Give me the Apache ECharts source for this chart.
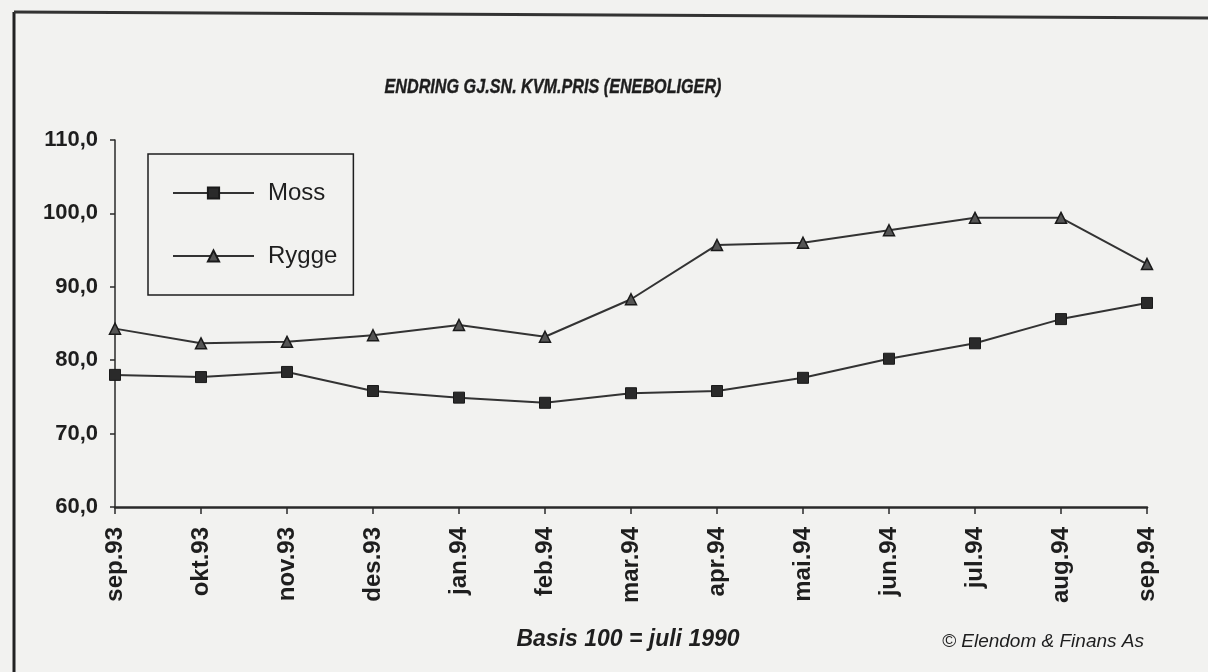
<!DOCTYPE html>
<html>
<head>
<meta charset="utf-8">
<script src="https://cdn.jsdelivr.net/npm/echarts@6/dist/echarts.min.js"></script>
<style>
html,body{margin:0;padding:0;background:#f2f2f0;}
#chart{width:1208px;height:672px;}
</style>
</head>
<body>
<div id="chart"></div>
<script>
const categories = ['sep.93','okt.93','nov.93','des.93','jan.94','feb.94','mar.94','apr.94','mai.94','jun.94','jul.94','aug.94','sep.94'];
const moss  = [78.0, 77.7, 78.4, 75.8, 74.9, 74.2, 75.5, 75.8, 77.6, 80.2, 82.3, 85.6, 87.8];
const rygge = [84.3, 82.3, 82.5, 83.4, 84.8, 83.2, 88.3, 95.7, 96.0, 97.7, 99.4, 99.4, 93.1];
const titleText = 'ENDRING GJ.SN. KVM.PRIS (ENEBOLIGER)';
const basisText = 'Basis 100 = juli 1990';
const sourceText = '© Elendom & Finans As';

const FONT = '"Liberation Sans", Arial, sans-serif';
const INK = '#1e1e1e';

const chart = echarts.init(document.getElementById('chart'));
chart.setOption({
  backgroundColor: '#f2f2f0',
  animation: false,
  legend: {
    orient: 'vertical',
    left: 148, top: 154,
    padding: [27, 16, 27, 24],
    itemGap: 39,
    itemWidth: 81, itemHeight: 14,
    borderColor: INK, borderWidth: 1.5,
    textStyle: {fontFamily: FONT, fontSize: 24, color: INK, padding: [0, 0, 0, 9]},
    data: ['Moss', 'Rygge']
  },
  grid: {left: 115, right: 61, top: 140, bottom: 165, containLabel: false},
  xAxis: {
    type: 'category',
    data: categories,
    boundaryGap: false,
    axisLine: {lineStyle: {color: '#2a2a2a', width: 2.5}},
    axisTick: {show: true, length: 7, inside: false, lineStyle: {color: '#2a2a2a', width: 1.5}},
    axisLabel: {rotate: 90, margin: 20, fontFamily: FONT, fontSize: 24, fontWeight: 'bold', color: INK, interval: 0}
  },
  yAxis: {
    type: 'value',
    min: 60, max: 110, interval: 10,
    axisLine: {show: true, lineStyle: {color: '#2a2a2a', width: 1.5}},
    axisTick: {show: true, length: 5, lineStyle: {color: '#2a2a2a', width: 1.5}},
    splitLine: {show: false},
    axisLabel: {margin: 17, fontFamily: FONT, fontSize: 22, fontWeight: 'bold', color: INK,
      formatter: v => v.toFixed(1).replace('.', ',')}
  },
  series: [
    {name: 'Moss', type: 'line', data: moss, symbol: 'rect', symbolSize: 11,
      lineStyle: {color: '#333', width: 2}, itemStyle: {color: '#2a2a2a', borderColor: '#1a1a1a', borderWidth: 1}},
    {name: 'Rygge', type: 'line', data: rygge, symbol: 'triangle', symbolSize: 11,
      lineStyle: {color: '#333', width: 2}, itemStyle: {color: '#555', borderColor: '#1a1a1a', borderWidth: 1.5}}
  ],
  graphic: [
    {type: 'line', shape: {x1: 14, y1: 12, x2: 14, y2: 672}, style: {stroke: '#222', lineWidth: 3}},
    {type: 'line', shape: {x1: 14, y1: 12, x2: 1208, y2: 18}, style: {stroke: '#333', lineWidth: 3}},
    {type: 'text', x: 553, y: 87, scaleX: 0.77,
      style: {text: titleText, font: 'italic bold 21px ' + FONT, fill: INK, align: 'center', verticalAlign: 'middle',
        stroke: INK, lineWidth: 0.4}},
    {type: 'text', x: 628, y: 640, scaleX: 1,
      style: {text: basisText, font: 'italic bold 23px ' + FONT, fill: INK, align: 'center', verticalAlign: 'middle'}},
    {type: 'text', x: 942, y: 642, scaleX: 1,
      style: {text: sourceText, font: 'italic 19px ' + FONT, fill: INK, align: 'left', verticalAlign: 'middle'}}
  ]
});
</script>
</body>
</html>
